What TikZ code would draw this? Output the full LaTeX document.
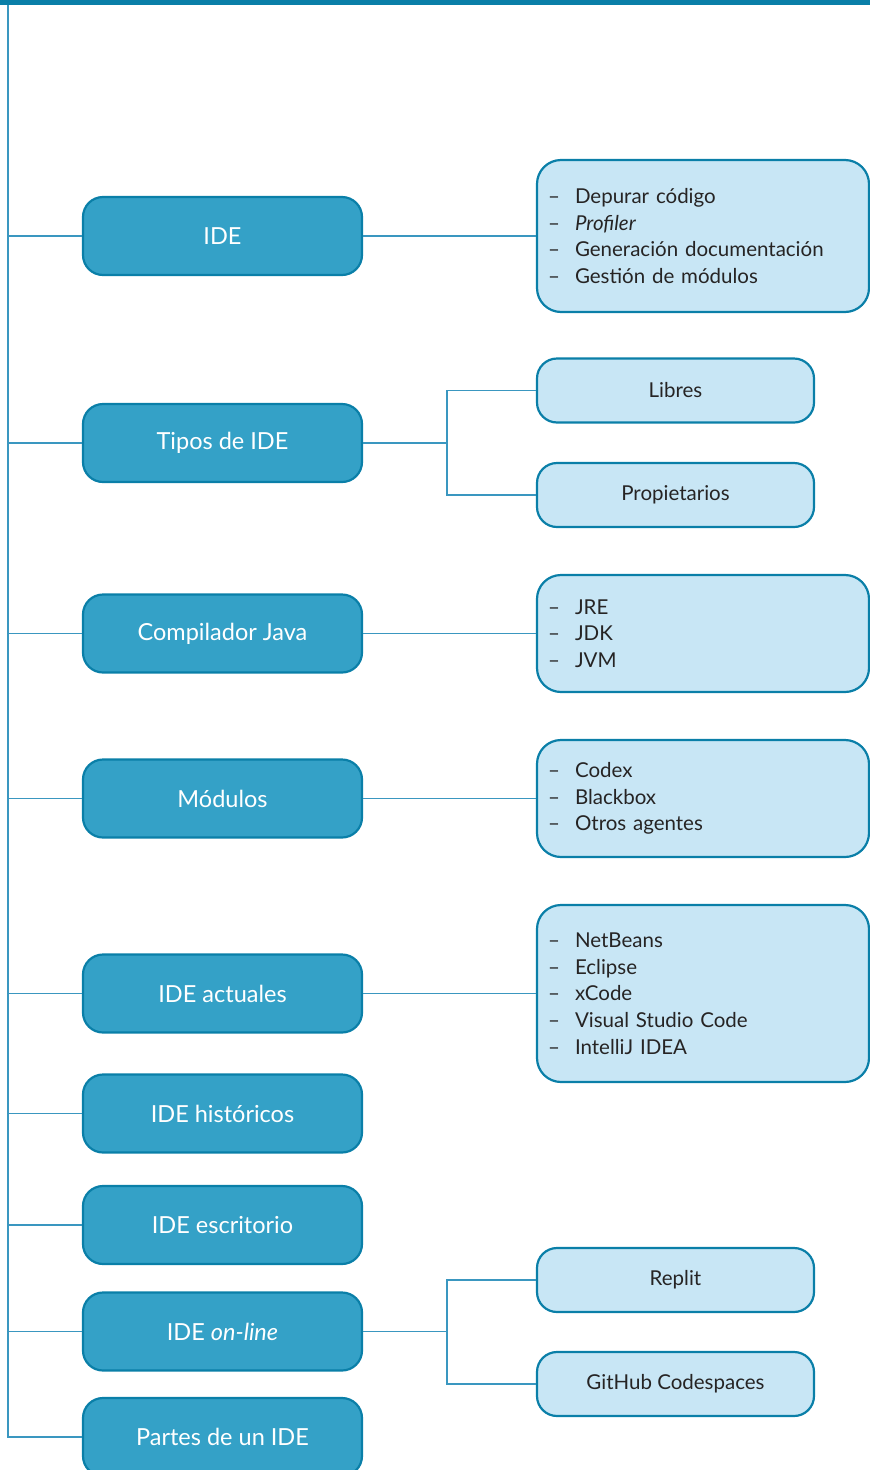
\documentclass[tikz,border=0pt]{standalone}
\usepackage{fontspec}
\setmainfont{Lato}
\usepackage{tikz}
\usetikzlibrary{positioning}
\definecolor{barblue}{HTML}{0A7FA8}
\definecolor{boxblue}{HTML}{34A1C7}
\definecolor{lineblue}{HTML}{3A97C0}
\definecolor{paleblue}{HTML}{C8E6F5}
\definecolor{inkgray}{HTML}{262424}
\newcommand{\guion}{\makebox[27pt][l]{--}}

\begin{document}
\begin{tikzpicture}[
		x=1pt, y=-1pt,
		tema/.style={draw=barblue, fill=boxblue, line width=2.2pt, rounded corners=20pt,
			minimum width=279pt, minimum height=78pt, text=white,
			font=\fontsize{23.5}{28}\selectfont},
		opcion/.style={draw=barblue, fill=paleblue, line width=2.2pt, rounded corners=20pt,
			minimum width=277pt, minimum height=64pt, text=inkgray,
			font=\fontsize{20.5}{26.7}\selectfont},
		lista/.style={draw=barblue, fill=paleblue, line width=2.2pt, rounded corners=24pt,
			text width=310pt, inner xsep=11pt, align=left, minimum height=#1, text=inkgray,
			font=\fontsize{20.5}{26.7}\selectfont},
		enlace/.style={draw=lineblue, line width=1.5pt}
	]
		\useasboundingbox (0,0) rectangle (870,1470);
		\fill[barblue] (0,0) rectangle (870,5);
		\node[tema] (IDE) at (222.5, 236) {IDE};
		\node[tema] (Tipos) at (222.5, 443) {Tipos de IDE};
		\node[tema] (Compilador) at (222.5, 633.5) {Compilador Java};
		\node[tema] (Modulos) at (222.5, 798.5) {Módulos};
		\node[tema] (Actuales) at (222.5, 993.5) {IDE actuales};
		\node[tema] (Historicos) at (222.5, 1113.5) {IDE históricos};
		\node[tema] (Escritorio) at (222.5, 1225) {IDE escritorio};
		\node[tema] (Online) at (222.5, 1331.5) {IDE \textit{on-line}};
		\node[tema] (Partes) at (222.5, 1437) {Partes de un IDE};
		\node[lista=152pt] (Funciones) at (703, 236) {\guion Depurar código\\ \guion\textit{Profiler}\\ \guion Generación documentación\\ \guion Gestión de módulos};
		\node[opcion] (Libres) at (675.5, 390.5) {Libres};
		\node[opcion] (Propietarios) at (675.5, 495) {Propietarios};
		\node[lista=117pt] (Java) at (703, 633.5) {\guion JRE\\ \guion JDK\\ \guion JVM};
		\node[lista=117pt] (Agentes) at (703, 798.5) {\guion Codex\\ \guion Blackbox\\ \guion Otros agentes};
		\node[lista=177pt] (Entornos) at (703, 993.5) {\guion NetBeans\\ \guion Eclipse\\ \guion xCode\\ \guion Visual Studio Code\\ \guion IntelliJ IDEA};
		\node[opcion] (Replit) at (675.5, 1280) {Replit};
		\node[opcion] (Codespaces) at (675.5, 1384) {GitHub Codespaces};
		\coordinate (Eje) at (8, 5);
		\draw[enlace] (Eje) |- (Partes.west);
		\foreach \n in {IDE, Tipos, Compilador, Modulos, Actuales, Historicos, Escritorio, Online}
			\draw[enlace] (Eje |- \n.west) -- (\n.west);
		\draw[enlace] (IDE.east) -- (Funciones.west);
		\draw[enlace] (Compilador.east) -- (Java.west);
		\draw[enlace] (Modulos.east) -- (Agentes.west);
		\draw[enlace] (Actuales.east) -- (Entornos.west);
		\draw[enlace] (Tipos.east) -- ++(84,0) coordinate (Rama1) |- (Libres.west);
		\draw[enlace] (Rama1) |- (Propietarios.west);
		\draw[enlace] (Online.east) -- ++(84,0) coordinate (Rama2) |- (Replit.west);
		\draw[enlace] (Rama2) |- (Codespaces.west);
	\end{tikzpicture}
\end{document}
